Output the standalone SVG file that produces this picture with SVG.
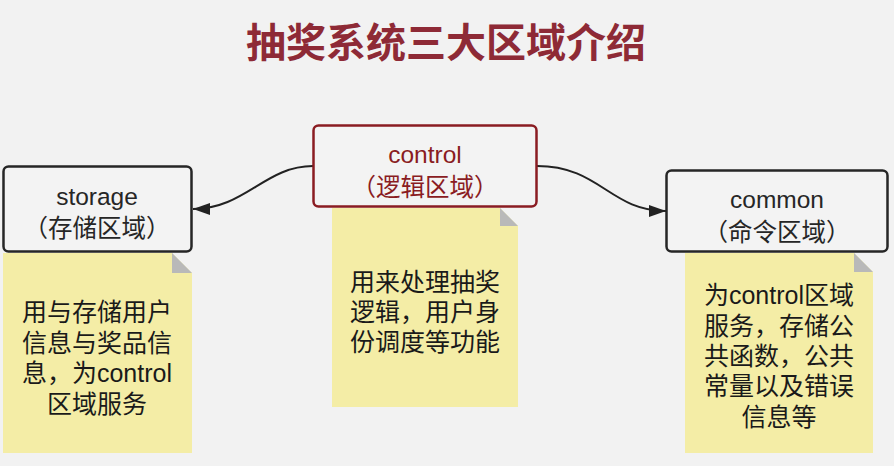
<svg xmlns="http://www.w3.org/2000/svg" width="894" height="466" viewBox="0 0 894 466">
<style>
.box{fill:#f3f3f3;stroke:#262626;stroke-width:2.5}
.ctrl{fill:#f3f3f3;stroke:#8a1c22;stroke-width:2.5}
.note{fill:#f4eda6}
.fold{fill:#b9b9b9}
.lbl{font-family:"Liberation Sans","Noto Sans CJK SC",sans-serif;font-size:24.5px;fill:#262626;text-anchor:middle}
.lblc{fill:#8a1c22}
.nt{font-family:"Liberation Sans","Noto Sans CJK SC",sans-serif;font-size:25px;fill:#1a1a1a;text-anchor:middle}
.conn{fill:none;stroke:#222;stroke-width:2}
.title{font-family:"Noto Sans CJK SC",sans-serif;font-size:40px;font-weight:bold;fill:#8e2a36;text-anchor:middle}
</style>
<defs>
<marker id="arr" markerUnits="userSpaceOnUse" viewBox="0 0 17 12" markerWidth="17" markerHeight="12" refX="17" refY="6" orient="auto">
<path d="M0,0 L17,6 L0,12 z" fill="#222"/>
</marker>
</defs>
<rect width="894" height="466" fill="#f2f2f2"/>
<text class="title" x="446" y="57">抽奖系统三大区域介绍</text>
<g id="connectors">
<path class="conn" d="M313,166 C265,166 245,209 193,209" marker-end="url(#arr)"/>
<path class="conn" d="M537,166 C600,166 610,211 666,211" marker-end="url(#arr)"/>
</g>
<g id="storage">
<rect class="box" x="3.5" y="166.5" width="188" height="85" rx="5"/>
<text class="lbl" x="97" y="205">storage</text>
<text class="lbl" x="97" y="237">（存储区域）</text>
</g>
<g id="storage-note">
<polygon class="note" points="3,253 172,253 192,273 192,453 3,453"/>
<polygon class="fold" points="172,253 172,273 192,273"/>
<text class="nt" x="97" y="321">用与存储用户</text>
<text class="nt" x="97" y="351.5">信息与奖品信</text>
<text class="nt" x="97" y="382">息，为control</text>
<text class="nt" x="97" y="412.5">区域服务</text>
</g>
<g id="control">
<rect class="ctrl" x="313.5" y="125.5" width="223" height="81" rx="5"/>
<text class="lbl lblc" x="425" y="163">control</text>
<text class="lbl lblc" x="425" y="196">（逻辑区域）</text>
</g>
<g id="control-note">
<polygon class="note" points="332,208 500,208 518,226 518,407 332,407"/>
<polygon class="fold" points="500,208 500,226 518,226"/>
<text class="nt" x="425" y="291">用来处理抽奖</text>
<text class="nt" x="425" y="321">逻辑，用户身</text>
<text class="nt" x="425" y="351">份调度等功能</text>
</g>
<g id="common">
<rect class="box" x="666.5" y="170.5" width="221" height="81" rx="5"/>
<text class="lbl" x="777" y="208">common</text>
<text class="lbl" x="777" y="241">（命令区域）</text>
</g>
<g id="common-note">
<polygon class="note" points="685,253 854,253 873,272 873,453 685,453"/>
<polygon class="fold" points="854,253 854,272 873,272"/>
<text class="nt" x="779" y="304">为control区域</text>
<text class="nt" x="779" y="334.5">服务，存储公</text>
<text class="nt" x="779" y="365">共函数，公共</text>
<text class="nt" x="779" y="395">常量以及错误</text>
<text class="nt" x="779" y="425.5">信息等</text>
</g>
</svg>
